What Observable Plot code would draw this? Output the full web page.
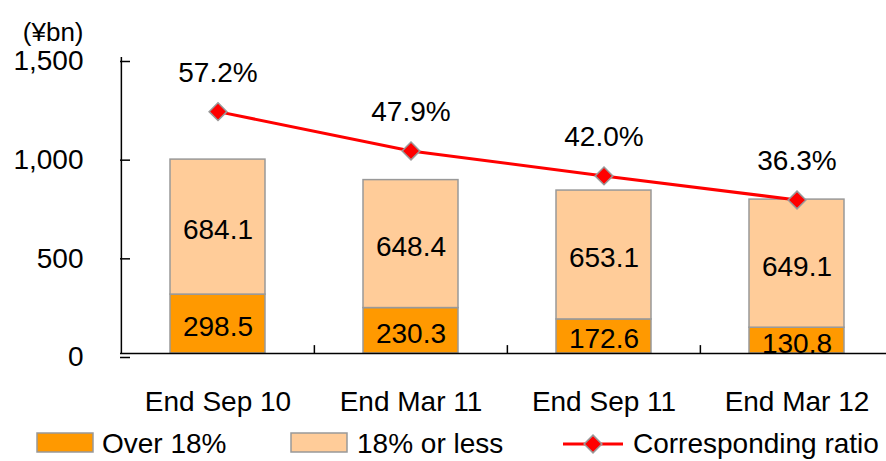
<!DOCTYPE html>
<html><head><meta charset="utf-8">
<script src="https://cdn.jsdelivr.net/npm/d3@7"></script>
<script src="https://cdn.jsdelivr.net/npm/@observablehq/plot@0.6"></script>
<style>
body{margin:0;background:#fff;}
#wrap{position:relative;width:886px;height:461px;overflow:hidden;font-family:'Liberation Sans',Arial,sans-serif;}
#legend{display:block;}
</style>
</head><body><div id="wrap"><div id="chart"></div><svg id="legend" width="886" height="46"></svg></div>
<script>
const categories = ["End Sep 10", "End Mar 11", "End Sep 11", "End Mar 12"];
const over18 = [298.5, 230.3, 172.6, 130.8];
const under18 = [684.1, 648.4, 653.1, 649.1];
const ratio = [57.2, 47.9, 42.0, 36.3];
const seriesNames = ["Over 18%", "18% or less", "Corresponding ratio"];
const seriesColors = ["#FF9900", "#FFCC99", "#FF0000"];
const yTicks = [0, 500, 1000, 1500];
const yMax = 1500;
const ratioAxisMax = 70; // hidden secondary axis 0–70%
const unitLabel = "(¥bn)";

const rows = categories.flatMap((c, i) => [
  {cat: c, series: seriesNames[0], y1: 0, y2: over18[i], value: over18[i]},
  {cat: c, series: seriesNames[1], y1: over18[i], y2: over18[i] + under18[i], value: under18[i]}
]);
const ratioRows = categories.map((c, i) => ({cat: c, ratio: ratio[i], y: ratio[i] * yMax / ratioAxisMax}));

const W = 886, H = 415, mL = 120, mR = -7, mT = 57, mB = 62;
const half = (W - mL - mR) / categories.length / 2;

const chart = Plot.plot({
  width: W, height: H,
  marginLeft: mL, marginRight: mR, marginTop: mT, marginBottom: mB,
  style: {fontFamily: "'Liberation Sans', Arial, sans-serif", fontSize: "28px", color: "#000", background: "#fff", overflow: "visible"},
  x: {domain: categories, padding: 0, label: null},
  y: {domain: [0, yMax], label: null},
  color: {domain: seriesNames.slice(0, 2), range: seriesColors.slice(0, 2)},
  marks: [
    Plot.rectY(rows, {x: "cat", y1: "y1", y2: "y2", fill: "series", stroke: "#999999", strokeWidth: 1.5, insetLeft: 49, insetRight: 49}),
    Plot.text(rows, {x: "cat", y: d => (d.y1 + d.y2) / 2, text: d => d.value.toFixed(1), dy: 3, fontSize: 28, fill: "#000"}),
    Plot.ruleY([0], {stroke: "#000", strokeWidth: 1.5}),
    Plot.ruleX([categories[0]], {x: d => d, dx: -half, y1: 0, y2: yMax, stroke: "#000", strokeWidth: 1.5}),
    Plot.ruleX(categories.slice(1), {x: d => d, dx: -half, y1: 0, y2: 40, stroke: "#000", strokeWidth: 1.5}),
    Plot.line(ratioRows, {x: "cat", y: "y", stroke: seriesColors[2], strokeWidth: 3}),
    Plot.dot(ratioRows, {x: "cat", y: "y", symbol: "diamond2", r: 8, fill: seriesColors[2], stroke: "#999999", strokeWidth: 1.5}),
    Plot.text(ratioRows, {x: "cat", y: "y", text: d => d.ratio.toFixed(1) + "%", dy: -39, fontSize: 28, fill: "#000"}),
    Plot.axisY({ticks: yTicks, tickSize: -10, tickPadding: 47, dy: 4, fontSize: 28, stroke: "#000", strokeWidth: 1.5}),
    Plot.axisX({tickSize: 0, tickPadding: 38, fontSize: 28}),
    Plot.text([unitLabel], {frameAnchor: "top-left", text: d => d, dx: -37, dy: -35, textAnchor: "end", fontSize: 26, fill: "#000"})
  ]
});
document.getElementById("chart").appendChild(chart);

// Legend
const lg = d3.select("#legend");
const ff = "'Liberation Sans', Arial, sans-serif";
const sw = [{x: 37, t: 102, c: seriesColors[0], n: seriesNames[0]}, {x: 291, t: 357, c: seriesColors[1], n: seriesNames[1]}];
sw.forEach(s => {
  lg.append("rect").attr("x", s.x).attr("y", 18).attr("width", 56).attr("height", 19)
    .attr("fill", s.c).attr("stroke", "#999").attr("stroke-width", 1.5);
  lg.append("text").attr("x", s.t).attr("y", 38).attr("font-family", ff).attr("font-size", 28).text(s.n);
});
lg.append("line").attr("x1", 563).attr("x2", 623).attr("y1", 29).attr("y2", 29).attr("stroke", seriesColors[2]).attr("stroke-width", 3);
lg.append("path").attr("d", d3.symbol(d3.symbolDiamond2, 64 * Math.PI)()).attr("transform", "translate(593,29)")
  .attr("fill", seriesColors[2]).attr("stroke", "#999").attr("stroke-width", 1.5);
lg.append("text").attr("x", 633).attr("y", 38).attr("font-family", ff).attr("font-size", 28).text(seriesNames[2]);
</script>
</body></html>
